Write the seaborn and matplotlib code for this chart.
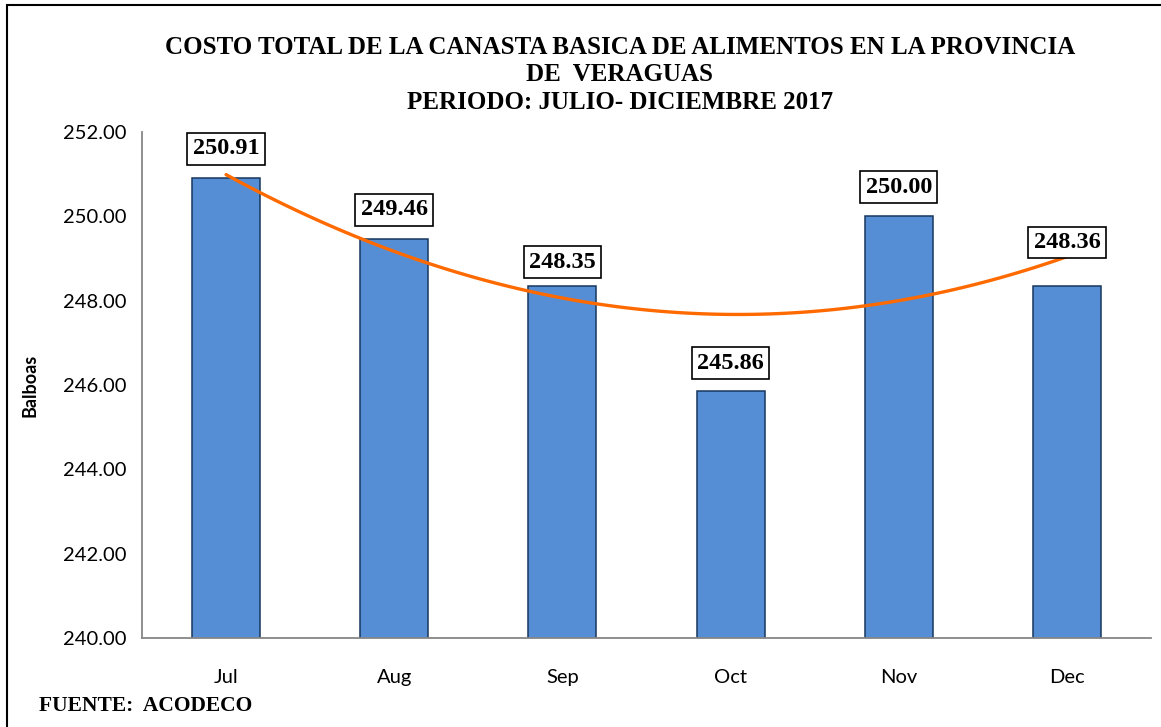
import numpy as np
import matplotlib
matplotlib.use("Agg")
import matplotlib.pyplot as plt
import seaborn as sns
import pandas as pd

# ===============================
# Data
# ===============================
months = ["Jul", "Aug", "Sep", "Oct", "Nov", "Dec"]
costs = [250.91, 249.46, 248.35, 245.86, 250.00, 248.36]
y_ticks = [240.0, 242.0, 244.0, 246.0, 248.0, 250.0, 252.0]

title = ("COSTO TOTAL DE LA CANASTA BASICA DE ALIMENTOS EN LA PROVINCIA\n"
         "DE  VERAGUAS\n"
         "PERIODO: JULIO- DICIEMBRE 2017")

# label offsets above bar tops (points)
label_offsets = [21, 21, 17, 20, 21, 31]

bar_color = "#558ED5"
edge_color = "#17375E"
trend_color = "#FF6A00"
axis_color = "#868686"

sns.set_theme(style="white")
plt.rcParams["font.family"] = ["Lato", "DejaVu Sans"]
plt.rcParams["text.color"] = "black"
plt.rcParams["axes.labelcolor"] = "black"
plt.rcParams["xtick.color"] = "black"
plt.rcParams["ytick.color"] = "black"

df = pd.DataFrame({"month": months, "cost": costs})

fig = plt.figure(figsize=(11.61, 7.27), dpi=100)
ax = fig.add_axes([0.1223, 0.1224, 0.8691, 0.696])

sns.barplot(data=df, x="month", y="cost", color=bar_color, width=0.405,
            edgecolor=edge_color, linewidth=1.1, saturation=1, ax=ax)

# polynomial (order 2) trend line, like Excel
sns.regplot(x=np.arange(len(costs)), y=costs, order=2, scatter=False, ci=None,
            line_kws=dict(color=trend_color, linewidth=2.4), ax=ax)

ax.set_ylim(240, 252)
ax.set_xlim(-0.5, len(months) - 0.5)
ax.set_yticks(y_ticks)
ax.set_yticklabels([f"{v:.2f}" for v in y_ticks], fontsize=14.5)
ax.set_xticks(range(len(months)))
ax.set_xticklabels(months, fontsize=14.5)
ax.set_xticks(np.arange(-0.5, len(months)), minor=True)
ax.tick_params(axis="x", which="major", length=0, pad=22)
ax.tick_params(axis="x", which="minor", length=6, color=axis_color, direction="out", width=1.3)
ax.tick_params(axis="y", length=6, color=axis_color, direction="out", width=1.3, pad=5)
for s in ["top", "right"]:
    ax.spines[s].set_visible(False)
for s in ["left", "bottom"]:
    ax.spines[s].set_color(axis_color)
    ax.spines[s].set_linewidth(1.3)
ax.set_xlabel("")
ax.set_ylabel("Balboas", fontsize=13, fontweight="bold", labelpad=18)

# value labels in boxes
for i, v in enumerate(costs):
    ax.annotate(f"{v:.2f}", xy=(i, v), xytext=(0, label_offsets[i]),
                textcoords="offset points", ha="center", va="center",
                fontsize=17.5, fontweight="bold", family="Liberation Serif",
                bbox=dict(boxstyle="square,pad=0.22", facecolor="white",
                          edgecolor="black", linewidth=1.2))

fig.text(0.534, 0.897, title, ha="center", va="center", fontsize=18,
         fontweight="bold", family="Liberation Serif", linespacing=1.23)
fig.text(0.034, 0.029, "FUENTE:  ACODECO", ha="left", va="center",
         fontsize=15.5, fontweight="bold", family="Liberation Serif")

# outer chart border
border = plt.Rectangle((7 / 1161, -0.01), 1.1, 1 - 5 / 727 + 0.01,
                       transform=fig.transFigure, fill=False,
                       edgecolor="black", linewidth=1.5, clip_on=False)
fig.patches.append(border)

fig.savefig("out.png", dpi=100)
